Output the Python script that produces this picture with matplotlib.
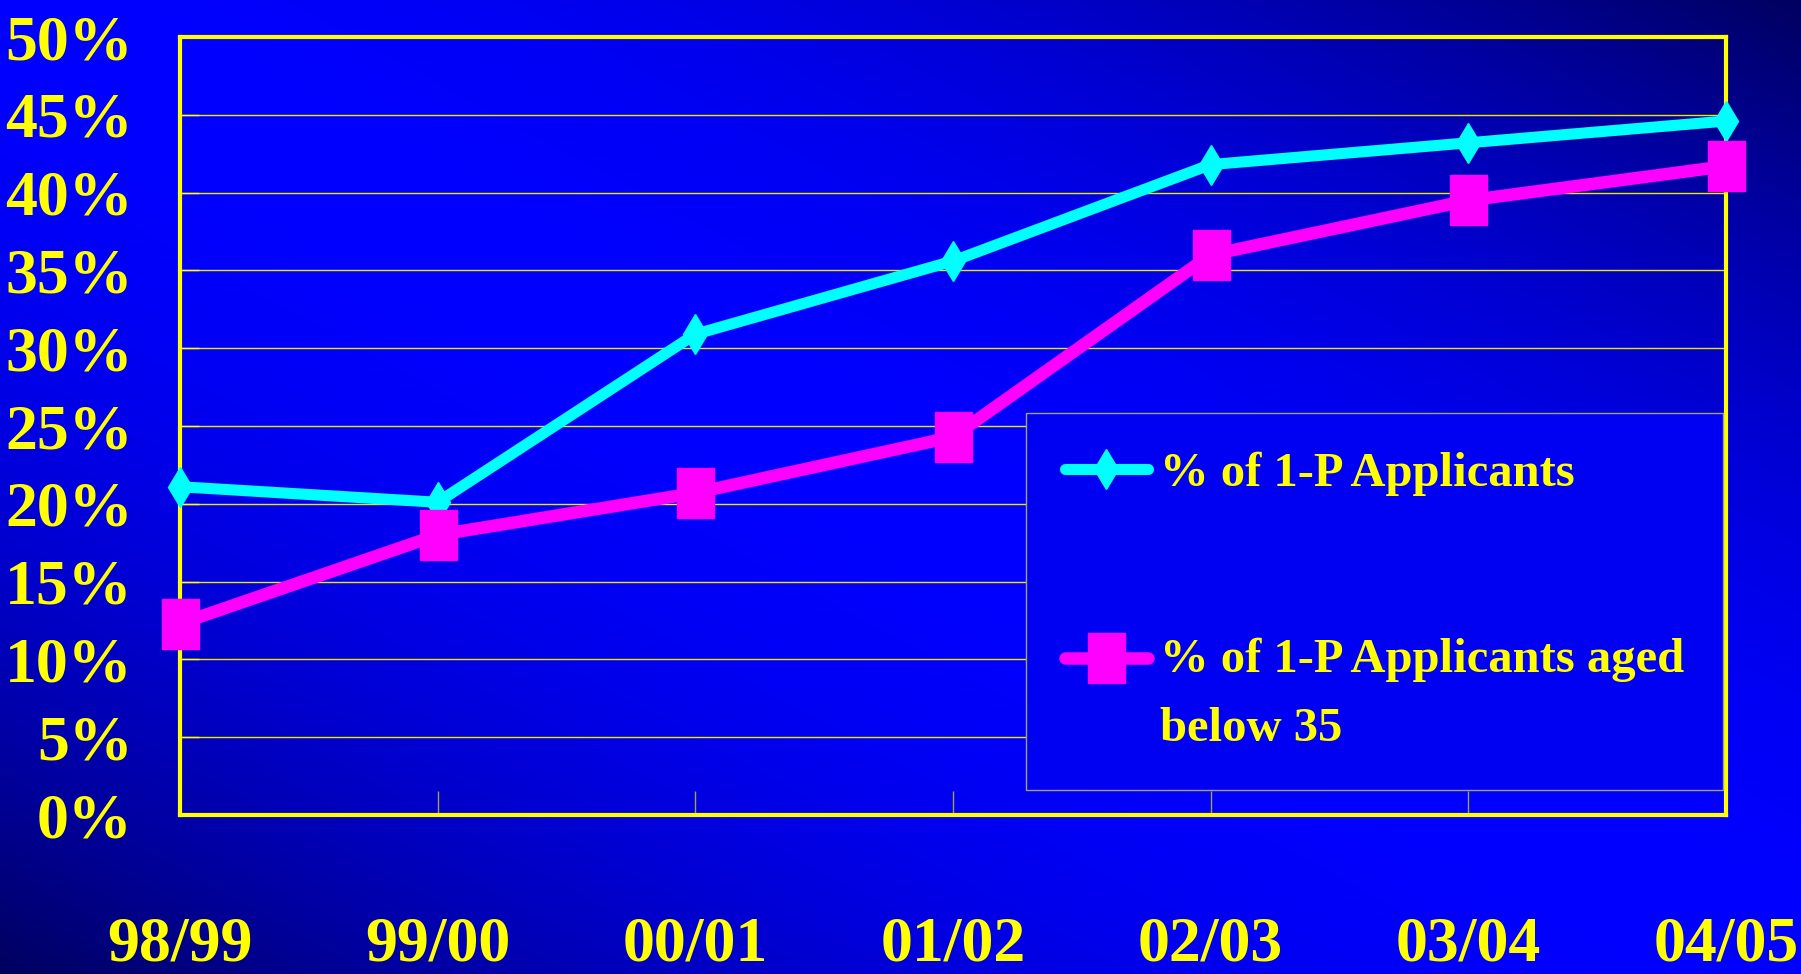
import numpy as np
import matplotlib
matplotlib.use("Agg")
import matplotlib.pyplot as plt
from matplotlib.legend_handler import HandlerLine2D

# values (percent)
years = ["98/99", "99/00", "00/01", "01/02", "02/03", "03/04", "04/05"]
pct_all = [21.1, 20.1, 30.9, 35.6, 41.8, 43.2, 44.6]
pct_young = [12.3, 18.0, 20.7, 24.3, 36.0, 39.5, 41.7]
y_ticks = list(range(0, 51, 5))


class RaisedLine(HandlerLine2D):
    # legend handle lifted so it sits level with the first line of a 2-line label
    def __init__(self, lift, **kw):
        super().__init__(**kw)
        self.lift = lift

    def create_artists(self, legend, orig_handle, xdescent, ydescent, width, height,
                       fontsize, trans):
        return super().create_artists(legend, orig_handle, xdescent,
                                      ydescent - 2 * self.lift, width, height,
                                      fontsize, trans)


plt.rcParams["font.family"] = ["Liberation Serif", "DejaVu Serif"]
plt.rcParams["font.weight"] = "bold"

fig = plt.figure(figsize=(18.01, 9.74), dpi=100)

# diagonal blue gradient behind everything
bg = fig.add_axes([0, 0, 1, 1], zorder=0)
h, w = 487, 900
xx, yy = np.meshgrid(np.linspace(0, 1, w), np.linspace(0, 1, h))
d = np.abs(xx - yy)
img = np.zeros((h, w, 3))
img[..., 2] = (255 - 160 * d ** 2) / 255
bg.imshow(img, aspect="auto", extent=(0, 1, 0, 1))
bg.axis("off")

ax = fig.add_axes([0.0999, 0.1632, 0.8584, 0.7988], zorder=1)
ax.patch.set_alpha(0)

x = np.arange(len(years))
rect = [(-0.37, -0.5), (0.37, -0.5), (0.37, 0.5), (-0.37, 0.5), (-0.37, -0.5)]

ax.plot(x, pct_all, color="#00ffff", lw=8, marker="d", ms=20,
        solid_capstyle="round", clip_on=False, zorder=3,
        label="% of 1-P Applicants")
young_line, = ax.plot(x, pct_young, color="#ff00ff", lw=9, marker=rect, ms=36, mew=1,
                      mec="#ff00ff", solid_capstyle="round", clip_on=False, zorder=3,
                      label="% of 1-P Applicants aged\nbelow 35")

ax.set_xlim(0, 6)
ax.set_ylim(0, 50)
ax.set_yticks(y_ticks)
ax.set_yticklabels([f"{v}%" for v in y_ticks])
ax.set_xticks(x)
ax.set_xticklabels(years)
ax.grid(axis="y", color="#e8e800", lw=1.0)
ax.set_axisbelow(True)
for s in ax.spines.values():
    s.set_color("#ffff00")
    s.set_linewidth(3)
ax.tick_params(axis="y", direction="in", length=14, width=1, color="#ffff00",
               labelcolor="#ffff00", labelsize=46, pad=34)
ax.tick_params(axis="x", direction="in", length=17, width=1, color="#a0a050",
               labelcolor="#ffff00", labelsize=46, pad=73)

leg = ax.legend(loc="upper right", bbox_to_anchor=(0.998, 0.5167), borderaxespad=0,
                fontsize=35, fancybox=False, facecolor="#0000f2", edgecolor="#a0a080",
                framealpha=1, labelcolor="#ffff00", handlelength=1.7,
                handletextpad=0.25, labelspacing=2.9, borderpad=0.8,
                handler_map={young_line: RaisedLine(lift=26)})
leg.get_frame().set_linewidth(1)
for t in leg.get_texts():
    t.set_linespacing(1.75)

fig.savefig("out.png", dpi=100)
